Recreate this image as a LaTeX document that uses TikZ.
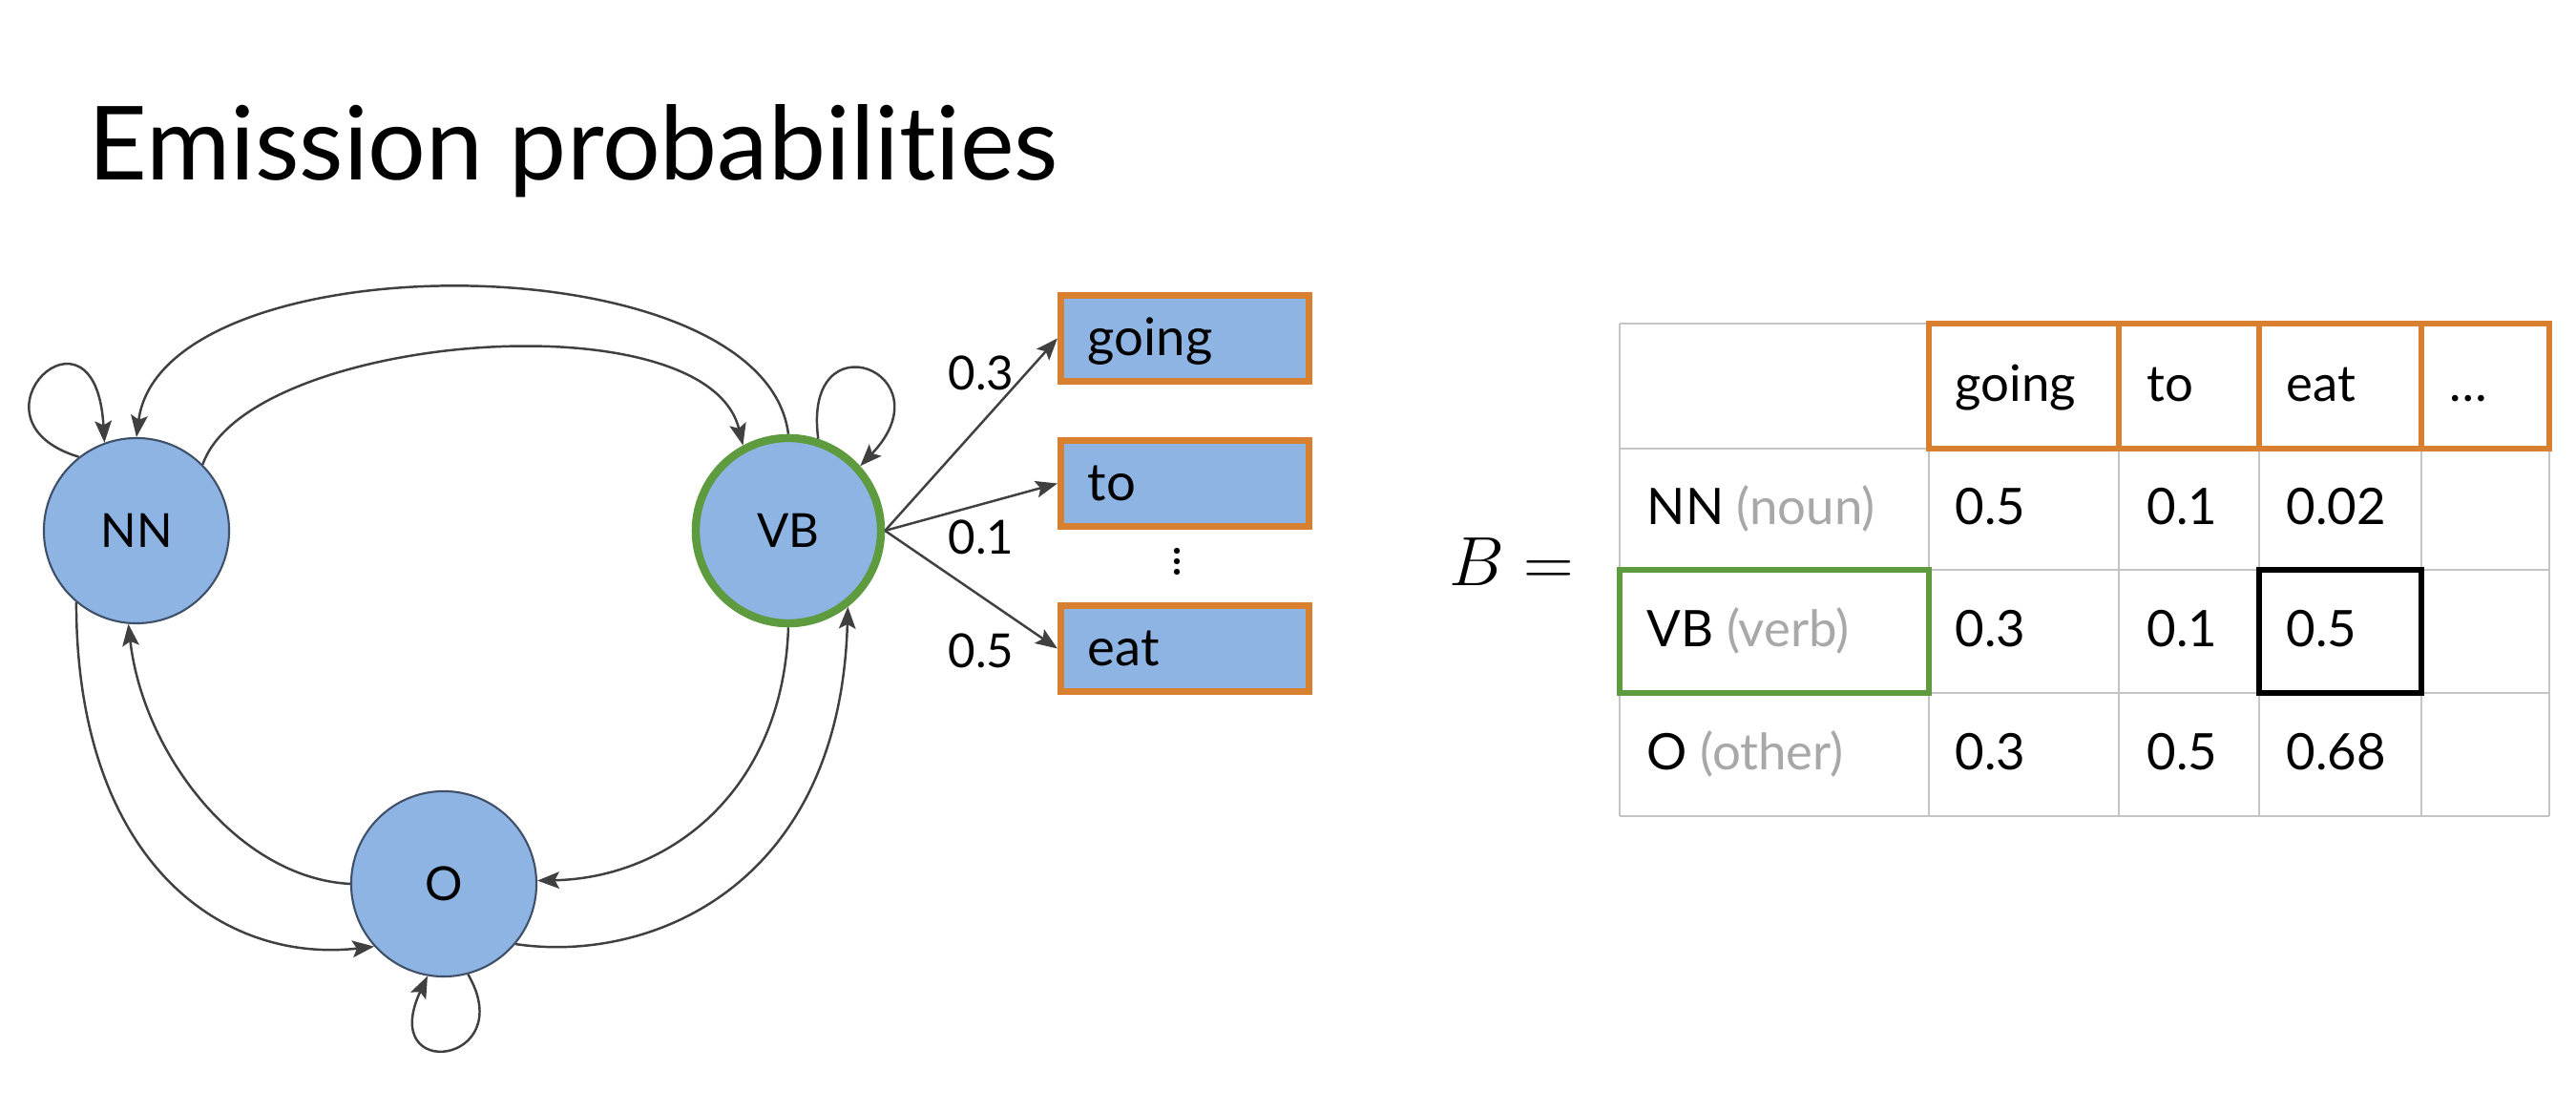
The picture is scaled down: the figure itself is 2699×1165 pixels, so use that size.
\documentclass[tikz,border=0pt]{standalone}
\usepackage{fontspec}
\setmainfont{Lato}[Ligatures={NoCommon}]
\usetikzlibrary{arrows.meta}
\definecolor{nodeblue}{HTML}{8DB4E2}
\definecolor{nodeedge}{HTML}{3F5068}
\definecolor{vbgreen}{HTML}{5E9B3E}
\definecolor{wordorange}{HTML}{D8802F}
\definecolor{arrowgray}{HTML}{404040}
\definecolor{gridgray}{HTML}{C4C4C4}
\definecolor{softgray}{HTML}{A8A8A8}
\begin{document}
\begin{tikzpicture}[x=0.01cm,y=-0.01cm,
  state/.style={circle, fill=nodeblue, draw=nodeedge, line width=0.6pt, minimum size=1.94cm, inner sep=0pt, font=\fontsize{14}{16}\selectfont},
  vbstate/.style={state, draw=vbgreen, line width=2.4pt},
  wordbox/.style={rectangle, fill=nodeblue, draw=wordorange, line width=2pt, minimum width=2.6cm, minimum height=0.9cm, inner xsep=0.285cm, text width=2.03cm, align=left, text height=1.0em, text depth=0pt, font=\fontsize{15.5}{18}\selectfont},
  trans/.style={draw=arrowgray, line width=0.7pt, -{Stealth[length=6.5pt,width=5pt,inset=1.3pt]}},
  problabel/.style={inner sep=0pt, font=\fontsize{14}{16}\selectfont},
  celltext/.style={anchor=west, inner sep=0pt, text height=0.9em, text depth=0pt, font=\fontsize{15}{18}\selectfont},
  gridline/.style={draw=gridgray, line width=0.6pt},
  headbox/.style={draw=wordorange, line width=1.6pt},
  dotmark/.style={fill=black}
]
\useasboundingbox[fill=white] (0,0) rectangle (2699,1165);

% title
\node[anchor=base west, inner sep=0pt, font=\fontsize{30.5}{36}\selectfont] (title) at (92,189) {Emission probabilities};

% states
\node[state] (NN) at (143,556) {NN};
\node[vbstate] (VB) at (826,556) {VB};
\node[state] (O) at (465,926) {O};

% transitions
\draw[trans] (VB.90) .. controls (800,250) and (170,250) .. (NN.90);
\draw[trans] (NN.45) .. controls (260,350) and (740,310) .. (VB.118);
\draw[trans] (NN.230) .. controls (80,900) and (230,1010) .. (O.222);
\draw[trans] (O.180) .. controls (250,920) and (150,790) .. (NN.265);
\draw[trans] (VB.270) .. controls (820,830) and (700,920) .. (O.2);
\draw[trans] (O.-40) .. controls (680,1010) and (880,930) .. (VB.-52);
% self loops
\draw[trans] (NN.128) .. controls (-45,440) and (100,300) .. (NN.110);
\draw[trans] (VB.72) .. controls (840,330) and (995,390) .. (VB.42);
\draw[trans] (O.-75) .. controls (545,1115) and (395,1135) .. (O.-100);

% emission boxes
\node[wordbox] (going) at (1241.5,354.5) {going};
\node[wordbox] (to) at (1241.5,506.5) {to};
\node[wordbox] (eat) at (1241.5,679.5) {eat};
% vertical ellipsis
\fill[dotmark] (1233,577) circle (3.2);
\fill[dotmark] (1233,588) circle (3.2);
\fill[dotmark] (1233,599) circle (3.2);

\draw[trans] (VB.0) -- (going.west);
\draw[trans] (VB.0) -- (to.west);
\draw[trans] (VB.0) -- (eat.west);
\node[problabel] (p1) at (1028,391) {0.3};
\node[problabel] (p2) at (1028,563) {0.1};
\node[problabel] (p3) at (1028,682) {0.5};

% B =
\node[inner sep=0pt, font=\fontsize{21}{24}\selectfont] (Beq) at (1584,589) {$B =$};

% table grid
\draw[gridline] (1697,339) -- (2021,339);
\draw[gridline] (1697,339) -- (1697,855);
\foreach \yy in {470,597,726,855} \draw[gridline] (1697,\yy) -- (2671,\yy);
\foreach \xx in {2021,2220,2367,2537,2671} \draw[gridline] (\xx,470) -- (\xx,855);
% header boxes
\draw[headbox] (2021,339) rectangle (2220,470);
\draw[headbox] (2220,339) rectangle (2367,470);
\draw[headbox] (2367,339) rectangle (2537,470);
\draw[headbox] (2537,339) rectangle (2671,470);
% highlight boxes
\draw[draw=vbgreen, line width=1.6pt] (1697,597) rectangle (2021,726);
\draw[draw=black, line width=1.6pt] (2367,597) rectangle (2537,726);

% header text
\node[celltext] (hgoing) at (2048,404.5) {going};
\node[celltext] (hto) at (2249,404.5) {to};
\node[celltext] (heat) at (2395,404.5) {eat};
\node[celltext] (hdots) at (2566,404.5) {…};
% row labels
\node[celltext] (rNN) at (1725,533.5) {NN \textcolor{softgray}{(noun)}};
\node[celltext] (rVB) at (1725,661.5) {VB \textcolor{softgray}{(verb)}};
\node[celltext] (rO) at (1725,790.5) {O \textcolor{softgray}{(other)}};
% values
\node[celltext] (c11) at (2048,533.5) {0.5};
\node[celltext] (c12) at (2249,533.5) {0.1};
\node[celltext] (c13) at (2395,533.5) {0.02};
\node[celltext] (c21) at (2048,661.5) {0.3};
\node[celltext] (c22) at (2249,661.5) {0.1};
\node[celltext] (c23) at (2395,661.5) {0.5};
\node[celltext] (c31) at (2048,790.5) {0.3};
\node[celltext] (c32) at (2249,790.5) {0.5};
\node[celltext] (c33) at (2395,790.5) {0.68};
\end{tikzpicture}
\end{document}
